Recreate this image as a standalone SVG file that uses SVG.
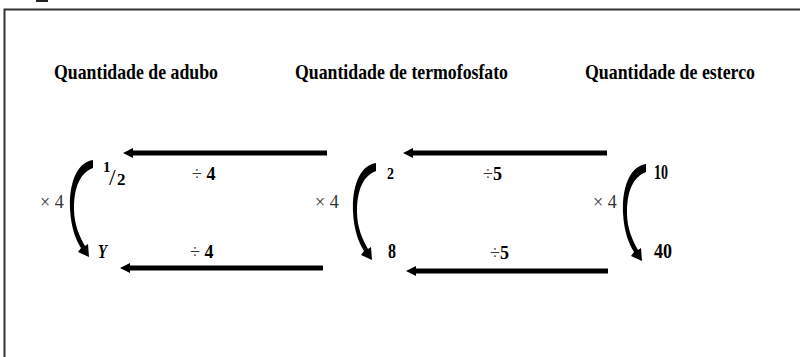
<svg xmlns="http://www.w3.org/2000/svg" width="800" height="357" viewBox="0 0 800 357">
<style>
.head{font-family:'Liberation Serif','Times New Roman',serif;font-weight:bold;font-size:21px;fill:#000}
.val{font-family:'Liberation Serif','Times New Roman',serif;font-weight:bold;fill:#000}
.op{font-family:'Liberation Serif','Times New Roman',serif;font-size:18px;fill:#333}
.opb{font-weight:bold;fill:#000}
.arr{stroke:#000;stroke-width:5;fill:none;marker-end:url(#ah)}
.curve{fill:#000}
</style>
<defs>
<marker id="ah" viewBox="0 0 10 10" refX="2" refY="5" markerWidth="10" markerHeight="10" markerUnits="userSpaceOnUse" orient="auto">
<path d="M0,0 L10,5 L0,10 Z" fill="#000"/>
</marker>
<path id="carc" d="M 1,-3 C -14,-1 -23,18 -22,46 C -21,65 -16,77 -11,85 L -14,89 L -3,94 L -4,81 L -7,83 C -12,74 -18,62 -18,46 C -18,24 -12,10 1,5 Z"/>
</defs>
<rect width="800" height="357" fill="#fff"/>
<g id="frame">
<rect x="36" y="0" width="12" height="2" fill="#222"/>
<path d="M4.5,357 V9.5 H800" stroke="#333" stroke-width="2" fill="none"/>
</g>
<g id="headings">
<text class="head" x="54" y="79" textLength="164" lengthAdjust="spacingAndGlyphs">Quantidade de adubo</text>
<text class="head" x="295" y="79" textLength="213" lengthAdjust="spacingAndGlyphs">Quantidade de termofosfato</text>
<text class="head" x="585" y="79" textLength="170" lengthAdjust="spacingAndGlyphs">Quantidade de esterco</text>
</g>
<g id="connectors">
<line class="arr" x1="327" y1="153" x2="131" y2="153"/>
<line class="arr" x1="323" y1="268" x2="128" y2="268"/>
<line class="arr" x1="607" y1="153" x2="411" y2="153"/>
<line class="arr" x1="608" y1="271" x2="414" y2="271"/>
<use href="#carc" class="curve" x="92" y="163"/>
<use href="#carc" class="curve" x="375" y="166"/>
<use href="#carc" class="curve" x="645" y="167"/>
</g>
<g id="op-labels">
<text class="op" x="192" y="180">÷ <tspan class="opb">4</tspan></text>
<text class="op" x="190" y="258">÷ <tspan class="opb">4</tspan></text>
<text class="op" x="483" y="180">÷<tspan class="opb">5</tspan></text>
<text class="op" x="490" y="259">÷<tspan class="opb">5</tspan></text>
<text class="op" x="40" y="208">× 4</text>
<text class="op" x="315" y="208">× 4</text>
<text class="op" x="593" y="208">× 4</text>
</g>
<g id="node-adubo">
<text class="val"><tspan x="103" y="172" style="font-size:15px">1</tspan><tspan x="109" y="185" style="font-size:24px;font-weight:normal">/</tspan><tspan x="117" y="185" style="font-size:17px">2</tspan></text>
<text class="val" x="98" y="258" style="font-size:19px;font-style:italic" textLength="9" lengthAdjust="spacingAndGlyphs">Y</text>
</g>
<g id="node-termofosfato">
<text class="val" x="387" y="179" style="font-size:16px" textLength="7" lengthAdjust="spacingAndGlyphs">2</text>
<text class="val" x="388" y="258" style="font-size:22px" textLength="8" lengthAdjust="spacingAndGlyphs">8</text>
</g>
<g id="node-esterco">
<text class="val" x="654" y="179" style="font-size:20px" textLength="14" lengthAdjust="spacingAndGlyphs">10</text>
<text class="val" x="654" y="258" style="font-size:22px" textLength="18" lengthAdjust="spacingAndGlyphs">40</text>
</g>
</svg>
